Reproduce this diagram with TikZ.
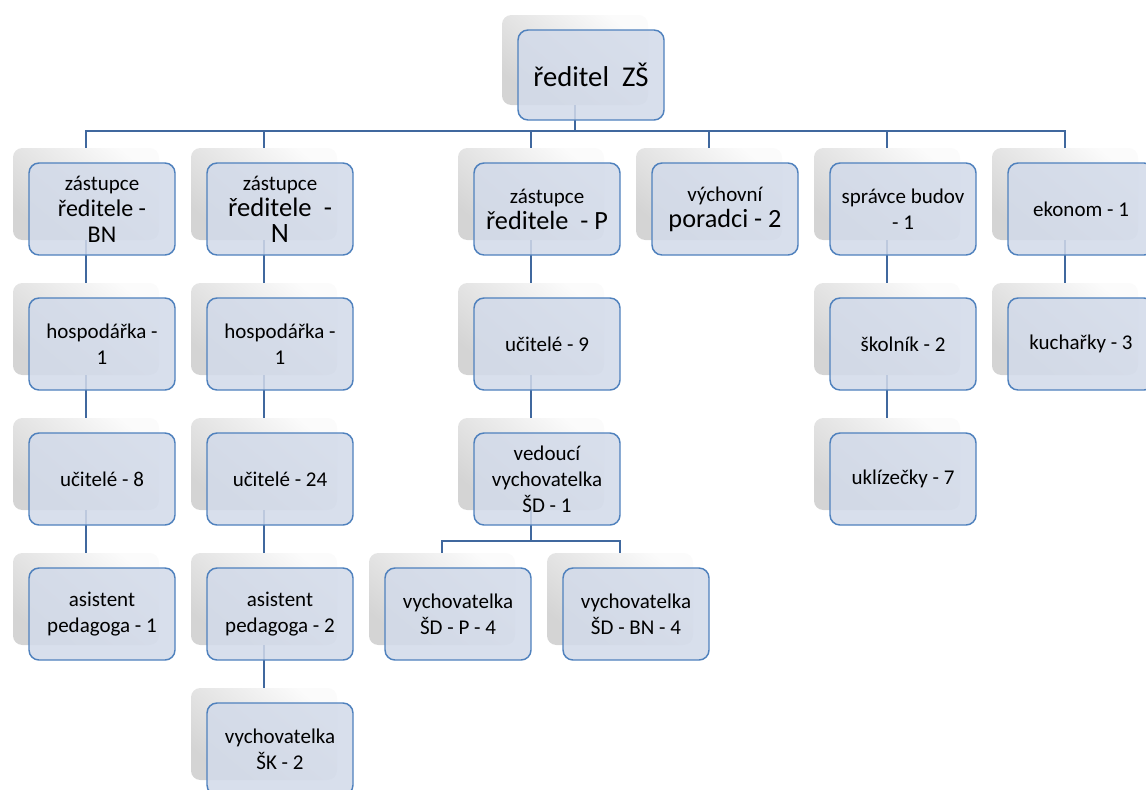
\documentclass[tikz,border=0pt]{standalone}
\usepackage{fontspec}
\setmainfont{Carlito}
\definecolor{boxfill}{RGB}{210,218,233}
\definecolor{boxline}{RGB}{79,129,189}
\definecolor{connline}{RGB}{64,104,158}
\newcommand\myfsa{\fontsize{18}{20}\selectfont}
\newcommand\myfsb{\fontsize{20}{21.5}\selectfont}
\newcommand\myfsc{\fontsize{19.7}{21}\selectfont}
\begin{document}
\begin{tikzpicture}[x=0.75pt,y=-0.75pt,
  shadowbox/.style={rectangle, rounded corners=7pt, minimum width=109.5pt, minimum height=69pt,
    inner sep=0pt, draw=none, top color=gray!3, bottom color=gray!34, shading angle=-40},
  bluebox/.style={rectangle, rounded corners=7.5pt, minimum width=109.5pt, minimum height=69pt,
    draw=boxline, line width=1.1pt, fill=boxfill, fill opacity=0.86, text opacity=1, text=black,
    align=center, inner sep=2pt, font=\fontsize{15.75}{19.5}\selectfont},
  conn/.style={draw=connline, line width=1.4pt},
  rootsize/.style={minimum height=67.5pt}]
\useasboundingbox (0,0) rectangle (1146,789);
\clip (0,0) rectangle (1146,789);

% ---- shadow (base) boxes: centre = (L+57, T+31)
\node[shadowbox,rootsize] (root) at (575,60) {};
\node[shadowbox] (z1)  at (29+57,163+31) {};
\node[shadowbox] (z2)  at (207+57,163+31) {};
\node[shadowbox] (zP)  at (474+57,163+31) {};
\node[shadowbox] (vp)  at (652+57,163+31) {};
\node[shadowbox] (sb)  at (830+57,163+31) {};
\node[shadowbox] (ek)  at (1008+57,163+31) {};
\node[shadowbox] (h1)  at (29+57,298+31) {};
\node[shadowbox] (h2)  at (207+57,298+31) {};
\node[shadowbox] (u9)  at (474+57,298+31) {};
\node[shadowbox] (sk)  at (830+57,298+31) {};
\node[shadowbox] (ku)  at (1008+57,298+31) {};
\node[shadowbox] (u8)  at (29+57,433+31) {};
\node[shadowbox] (u24) at (207+57,433+31) {};
\node[shadowbox] (ved) at (474+57,433+31) {};
\node[shadowbox] (ukl) at (830+57,433+31) {};
\node[shadowbox] (as1) at (29+57,568+31) {};
\node[shadowbox] (as2) at (207+57,568+31) {};
\node[shadowbox] (vP)  at (385+57,568+31) {};
\node[shadowbox] (vBN) at (563+57,568+31) {};
\node[shadowbox] (vSK) at (207+57,703+31) {};

% ---- connectors
\foreach \c in {z1,z2,zP,vp,sb,ek}
  \draw[conn] (root.south) -- ++(0,26) -| (\c.north);
\draw[conn] (z1.south) -- (h1.north);
\draw[conn] (h1.south) -- (u8.north);
\draw[conn] (u8.south) -- (as1.north);
\draw[conn] (z2.south) -- (h2.north);
\draw[conn] (h2.south) -- (u24.north);
\draw[conn] (u24.south) -- (as2.north);
\draw[conn] (as2.south) -- (vSK.north);
\draw[conn] (zP.south) -- (u9.north);
\draw[conn] (u9.south) -- (ved.north);
\draw[conn] (ved.south) -- ++(0,31) -| (vP.north);
\draw[conn] (ved.south) -- ++(0,31) -| (vBN.north);
\draw[conn] (sb.south) -- (sk.north);
\draw[conn] (sk.south) -- (ukl.north);
\draw[conn] (ek.south) -- (ku.north);

% ---- blue boxes with text (offset 16,15 from base)
\node[bluebox,rootsize,shift={(16,15)}] (root-b) at (root) {\fontsize{21.5}{26}\selectfont ředitel~ ZŠ};
\node[bluebox,shift={(16,15)}] (z1-b) at (z1) {zástupce\\\myfsa ředitele -\\\myfsa BN};
\node[bluebox,shift={(16,15)}] (z2-b) at (z2) {zástupce\\\myfsb ředitele~ -\\\fontsize{21}{22}\selectfont N};
\node[bluebox,shift={(16,15)}] (zP-b) at (zP) {zástupce\\\myfsc ředitele~ - P};
\node[bluebox,shift={(16,15)}] (vp-b) at (vp) {výchovní\\\myfsc poradci - 2};
\node[bluebox,shift={(16,15)}] (sb-b) at (sb) {správce budov\\- 1};
\node[bluebox,shift={(16,15)}] (ek-b) at (ek) {ekonom - 1};
\node[bluebox,shift={(16,15)}] (h1-b) at (h1) {hospodářka -\\1};
\node[bluebox,shift={(16,15)}] (h2-b) at (h2) {hospodářka -\\1};
\node[bluebox,shift={(16,15)}] (u9-b) at (u9) {učitelé - 9};
\node[bluebox,shift={(16,15)}] (sk-b) at (sk) {školník - 2};
\node[bluebox,shift={(16,15)}] (ku-b) at (ku) {kuchařky - 3};
\node[bluebox,shift={(16,15)}] (u8-b) at (u8) {učitelé - 8};
\node[bluebox,shift={(16,15)}] (u24-b) at (u24) {učitelé - 24};
\node[bluebox,shift={(16,15)}] (ved-b) at (ved) {vedoucí\\vychovatelka\\ŠD - 1};
\node[bluebox,shift={(16,15)}] (ukl-b) at (ukl) {uklízečky - 7};
\node[bluebox,shift={(16,15)}] (as1-b) at (as1) {asistent\\pedagoga - 1};
\node[bluebox,shift={(16,15)}] (as2-b) at (as2) {asistent\\pedagoga - 2};
\node[bluebox,shift={(16,15)}] (vP-b) at (vP) {vychovatelka\\ŠD - P - 4};
\node[bluebox,shift={(16,15)}] (vBN-b) at (vBN) {vychovatelka\\ŠD - BN - 4};
\node[bluebox,shift={(16,15)}] (vSK-b) at (vSK) {vychovatelka\\ŠK - 2};
\end{tikzpicture}
\end{document}
